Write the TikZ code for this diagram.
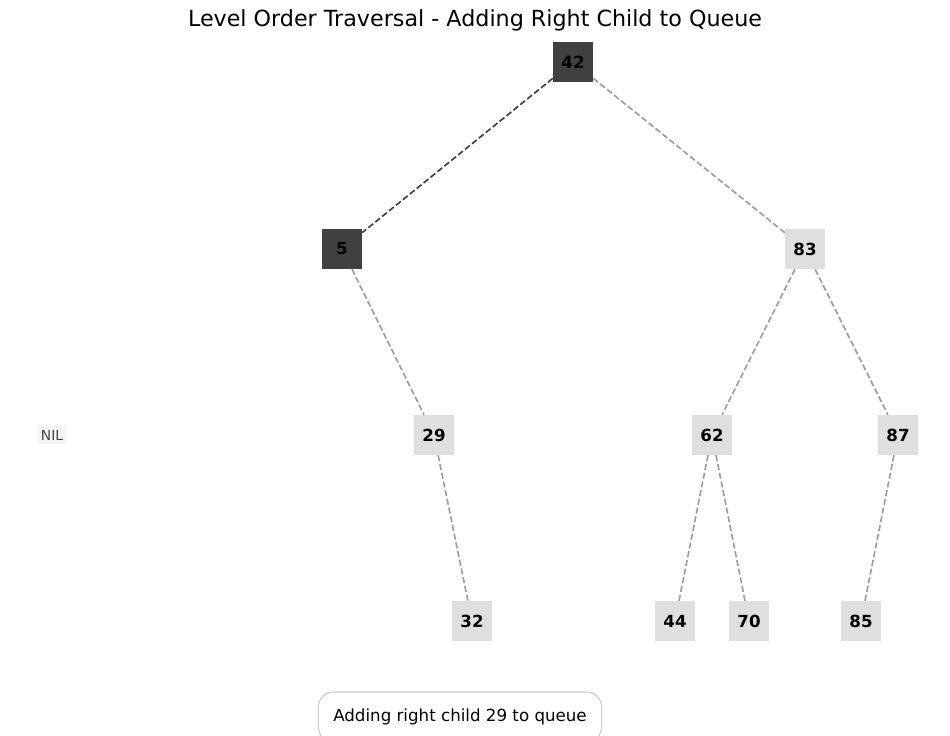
\documentclass[tikz,border=0pt]{standalone}
\usepackage{fontspec}
\setmainfont{DejaVu Sans}
\definecolor{darknode}{HTML}{404040}
\definecolor{lightnode}{HTML}{DFDFDF}
\definecolor{edgegray}{HTML}{9E9E9E}
\definecolor{nilbg}{HTML}{F5F5F5}
\definecolor{niltext}{HTML}{444444}
\definecolor{boxborder}{HTML}{CCCCCC}
\tikzset{
  treenode/.style={minimum width=28.8pt,minimum height=28.8pt,inner sep=0pt,font=\fontsize{12}{14}\selectfont\bfseries,text=black},
  darkbox/.style={treenode,fill=darknode},
  lightbox/.style={treenode,fill=lightnode},
  edgeline/.style={draw=edgegray,line width=1.2pt,dash pattern=on 4.4pt off 2pt},
  activeedge/.style={edgeline,draw=darknode}
}
\begin{document}
\begin{tikzpicture}[x=0.72pt,y=-0.72pt]
\useasboundingbox (0,0) rectangle (950,736);
\node[font=\fontsize{16}{19}\selectfont] (title) at (475,20) {Level Order Traversal - Adding Right Child to Queue};
\node[darkbox] (n42) at (573,62) {42};
\node[darkbox] (n5) at (342,249) {5};
\node[lightbox] (n83) at (805,249) {83};
\node[lightbox] (n29) at (434,435) {29};
\node[lightbox] (n62) at (712,435) {62};
\node[lightbox] (n87) at (898,435) {87};
\node[lightbox] (n32) at (472,621) {32};
\node[lightbox] (n44) at (675,621) {44};
\node[lightbox] (n70) at (749,621) {70};
\node[lightbox] (n85) at (861,621) {85};
\node[fill=nilbg,text=niltext,font=\fontsize{10}{12}\selectfont,inner sep=2.5pt] (nil) at (52,435) {NIL};
\draw[activeedge] (n42) -- (n5);
\draw[edgeline] (n42) -- (n83);
\draw[edgeline] (n5) -- (n29);
\draw[edgeline] (n83) -- (n62);
\draw[edgeline] (n83) -- (n87);
\draw[edgeline] (n29) -- (n32);
\draw[edgeline] (n62) -- (n44);
\draw[edgeline] (n62) -- (n70);
\draw[edgeline] (n87) -- (n85);
\node[draw=boxborder,fill=white,rounded corners=11pt,line width=0.8pt,minimum width=204pt,minimum height=36pt,font=\fontsize{12}{14}\selectfont] (status) at (460,717) {Adding right child 29 to queue};
\end{tikzpicture}
\end{document}
